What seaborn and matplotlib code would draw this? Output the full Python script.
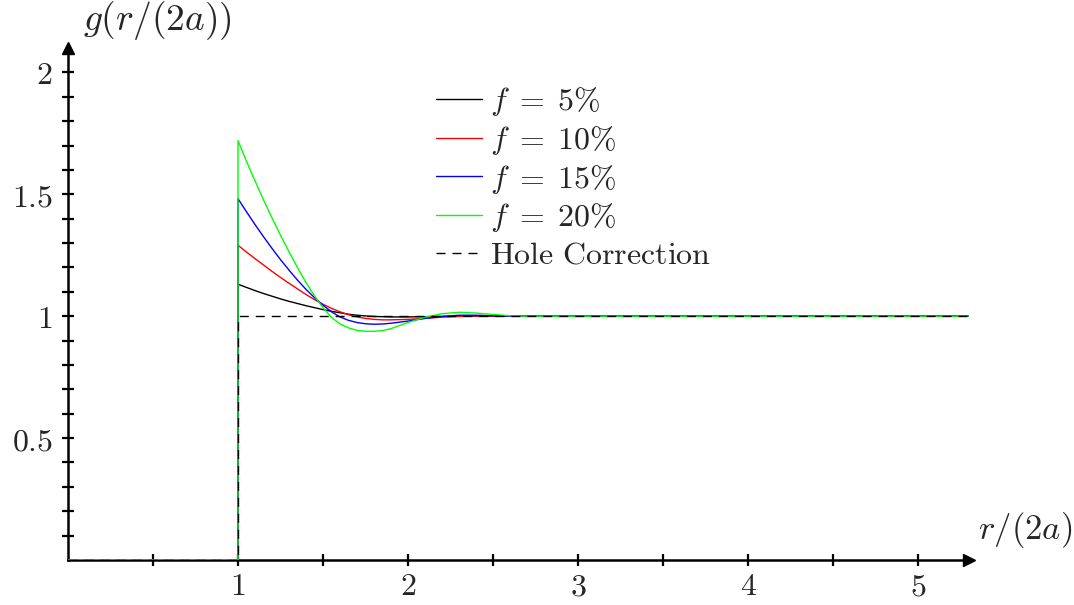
import numpy as np
import pandas as pd
import matplotlib
matplotlib.use("Agg")
import matplotlib.pyplot as plt
import seaborn as sns

# radial distance r/(2a); g = 0 inside the excluded core, jump at contact r = 1
r_vals = [0.0, 1.0, 1.0, 1.05, 1.10, 1.15, 1.20, 1.25, 1.30, 1.35, 1.40, 1.45,
          1.50, 1.55, 1.60, 1.65, 1.70, 1.75, 1.80, 1.85, 1.90, 2.00, 2.10,
          2.20, 2.30, 2.40, 2.50, 2.60, 2.70, 5.30]

g_f05 = [0, 0, 1.131, 1.118, 1.105, 1.093, 1.082, 1.071, 1.061, 1.052, 1.043,
         1.035, 1.027, 1.020, 1.014, 1.008, 1.004, 1.001, 0.999, 0.998, 0.997,
         0.997, 0.998, 0.999, 1.000, 1.000, 1.000, 1.000, 1.000, 1.000]
g_f10 = [0, 0, 1.291, 1.263, 1.236, 1.210, 1.184, 1.159, 1.135, 1.112, 1.089,
         1.068, 1.049, 1.032, 1.018, 1.006, 0.997, 0.991, 0.987, 0.985, 0.985,
         0.987, 0.991, 0.996, 0.999, 1.001, 1.001, 1.000, 1.000, 1.000]
g_f15 = [0, 0, 1.482, 1.428, 1.376, 1.326, 1.278, 1.232, 1.189, 1.148, 1.110,
         1.076, 1.045, 1.018, 0.997, 0.983, 0.974, 0.969, 0.967, 0.968, 0.971,
         0.980, 0.991, 0.999, 1.004, 1.004, 1.002, 1.000, 1.000, 1.000]
g_f20 = [0, 0, 1.720, 1.635, 1.555, 1.477, 1.403, 1.332, 1.264, 1.199, 1.138,
         1.083, 1.035, 0.995, 0.968, 0.952, 0.942, 0.938, 0.938, 0.941, 0.949,
         0.974, 0.996, 1.010, 1.016, 1.013, 1.007, 1.002, 1.000, 1.000]

r_hole = [0.0, 1.0, 1.0, 5.30]
g_hole = [0, 0, 1, 1]

labels = [r"$f \;=\; 5\%$", r"$f \;=\; 10\%$", r"$f \;=\; 15\%$",
          r"$f \;=\; 20\%$"]
colors = ["#000000", "#ff0000", "#0000ff", "#00ff00"]
series = [g_f05, g_f10, g_f15, g_f20]

x_ticks = [1, 2, 3, 4, 5]
y_ticks = [0.5, 1, 1.5, 2]

sns.set_style("white")
plt.rcParams["mathtext.fontset"] = "cm"
plt.rcParams["font.family"] = ["DejaVu Serif"]

fig = plt.figure(figsize=(10.74, 6.05), dpi=100)
ax = fig.add_axes([68 / 1074, 45 / 605, 901 / 1074, 512 / 605])

for g, lab, col in zip(series, labels, colors):
    df = pd.DataFrame({"r": r_vals, "g": g})
    sns.lineplot(data=df, x="r", y="g", ax=ax, color=col, lw=1.0,
                 estimator=None, sort=False, label=lab, zorder=3)

df_hole = pd.DataFrame({"r": r_hole, "g": g_hole})
sns.lineplot(data=df_hole, x="r", y="g", ax=ax, color="black", lw=1.0,
             estimator=None, sort=False, label=r"$\mathrm{Hole\ Correction}$",
             zorder=4)
ax.lines[-1].set_dashes([6.5, 5])

ax.set_xlim(0, 5.3)
ax.set_ylim(0, 2.1)

# axes drawn as arrows through the origin
for side in ["top", "right"]:
    ax.spines[side].set_visible(False)
for side in ["left", "bottom"]:
    ax.spines[side].set_linewidth(1.8)
    ax.spines[side].set_color("black")
    ax.spines[side].set_zorder(2)
ax.plot(1, 0, ">k", ms=9, transform=ax.get_yaxis_transform(), clip_on=False)
ax.plot(0, 1, "^k", ms=9, transform=ax.get_xaxis_transform(), clip_on=False)

ax.set_xticks(x_ticks)
ax.set_xticklabels([f"${t}$" for t in x_ticks])
ax.set_xticks(np.arange(0.5, 5.3, 1.0), minor=True)
ax.set_yticks(y_ticks)
ax.set_yticklabels([f"${t:g}$" for t in y_ticks])
ax.set_yticks([v / 10 for v in range(1, 21) if v % 5], minor=True)
ax.tick_params(which="both", direction="inout", length=8, width=1.6,
               color="black", labelsize=23)
ax.tick_params(axis="x", which="both", pad=4, bottom=True)
ax.tick_params(axis="y", which="both", pad=7, left=True)
ax.set_xlabel("")
ax.set_ylabel("")

fig.text(157 / 1074, 1 - 20 / 605, r"$g(r/(2a))$", fontsize=27,
         ha="center", va="center")
fig.text(1025 / 1074, 1 - 530 / 605, r"$r/(2a)$", fontsize=25,
         ha="center", va="center")

ax.legend(loc="upper left", bbox_to_anchor=(436 / 1074, 1 - 85 / 605),
          bbox_transform=fig.transFigure, frameon=False, fontsize=23,
          handlelength=1.45, handletextpad=0.25, labelspacing=0.18,
          borderpad=0, borderaxespad=0)

fig.savefig("out.png", dpi=100)
